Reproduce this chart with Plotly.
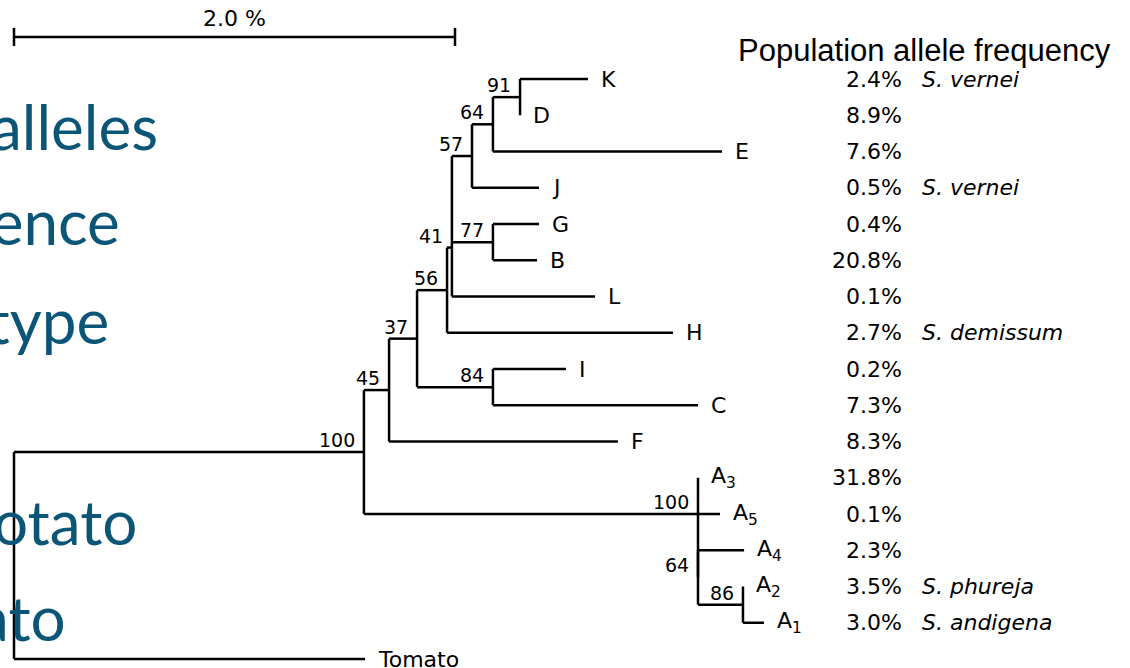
import plotly.graph_objects as go

# ---------------- data ----------------
# tree: node, parent, branch length (% sequence divergence from parent)
nodes = ["root", "N100", "Tomato", "N45", "NA100", "N37", "F", "N56", "N84", "N41", "H",
         "N57", "N77", "L", "N64", "J", "N91", "E", "K", "D", "G", "B", "I", "C",
         "A3", "A5", "NA64", "A4", "N86", "A2", "A1"]
parents = [None, "root", "root", "N100", "N100", "N45", "N45", "N37", "N37", "N56", "N56",
           "N41", "N41", "N41", "N57", "N57", "N64", "N64", "N91", "N91", "N77", "N77", "N84", "N84",
           "NA100", "NA100", "NA100", "NA64", "NA64", "N86", "N86"]
branch_len = [0.0, 1.587, 1.592, 0.114, 1.515, 0.127, 1.038, 0.136, 0.344, 0.022, 1.025,
              0.091, 0.186, 0.649, 0.095, 0.304, 0.123, 1.039, 0.308, 0.0, 0.209, 0.200, 0.331, 0.930,
              0.0, 0.100, 0.0, 0.209, 0.204, 0.0, 0.095]

leaf_order = ["K", "D", "E", "J", "G", "B", "L", "H", "I", "C", "F",
              "A3", "A5", "A4", "A2", "A1", "Tomato"]
leaf_labels = ["K", "D", "E", "J", "G", "B", "L", "H", "I", "C", "F",
               "A<sub>3</sub>", "A<sub>5</sub>", "A<sub>4</sub>", "A<sub>2</sub>", "A<sub>1</sub>", "Tomato"]

boot_nodes = ["N91", "N64", "N57", "N77", "N41", "N56", "N37", "N84", "N45", "N100", "NA100", "NA64", "N86"]
boot_vals = [91, 64, 57, 77, 41, 56, 37, 84, 45, 100, 100, 64, 86]

# nodes drawn off their children's midpoint in the original figure (leaf-row units)
y_override_nodes = ["N41", "NA100"]
y_override_vals = [4.65, 12.0]

freq_pct = [2.4, 8.9, 7.6, 0.5, 0.4, 20.8, 0.1, 2.7, 0.2, 7.3, 8.3,
            31.8, 0.1, 2.3, 3.5, 3.0]
species = ["S. vernei", "", "", "S. vernei", "", "", "", "S. demissum", "", "", "",
           "", "", "", "S. phureja", "S. andigena"]

scale_value = 2.0
scale_label = "2.0 %"
header = "Population allele frequency"

slide_words = ["alleles", "gence", "otype", "otato", "ato"]

# ---------------- layout of tree ----------------
par = dict(zip(nodes, parents))
blen = dict(zip(nodes, branch_len))
children = {n: [] for n in nodes}
for n, p in zip(nodes, parents):
    if p is not None:
        children[p].append(n)

xpos = {}
def calc_x(n):
    if n in xpos:
        return xpos[n]
    p = par[n]
    xpos[n] = blen[n] + (calc_x(p) if p else 0.0)
    return xpos[n]
for n in nodes:
    calc_x(n)

ypos = {leaf: i for i, leaf in enumerate(leaf_order)}
ovr = dict(zip(y_override_nodes, y_override_vals))
def calc_y(n):
    if n in ypos:
        return ypos[n]
    ys = [calc_y(c) for c in children[n]]
    ypos[n] = ovr.get(n, (min(ys) + max(ys)) / 2)
    return ypos[n]
calc_y("root")

lx, ly = [], []
for n in nodes:
    p = par[n]
    if p is not None:
        lx += [xpos[p], xpos[n], None]
        ly += [ypos[n], ypos[n], None]
    if children[n]:
        ys = [ypos[c] for c in children[n]]
        lx += [xpos[n], xpos[n], None]
        ly += [min(ys), max(ys), None]

fig = go.Figure()
fig.add_trace(go.Scatter(x=lx, y=ly, mode="lines",
                         line=dict(color="black", width=2.5),
                         hoverinfo="skip", showlegend=False))

# scale bar
SB_Y = -1.16
SB_T = 0.25
fig.add_trace(go.Scatter(
    x=[0, scale_value, None, 0, 0, None, scale_value, scale_value],
    y=[SB_Y, SB_Y, None, SB_Y - SB_T, SB_Y + SB_T, None, SB_Y - SB_T, SB_Y + SB_T],
    mode="lines", line=dict(color="black", width=2.5),
    hoverinfo="skip", showlegend=False))

ann = []
ROW_FONT = dict(family="DejaVu Sans", size=22, color="black")
SPEC_FONT = dict(family="DejaVu Sans", size=22, color="black")
ann.append(dict(x=scale_value / 2, y=-1.66, text=scale_label, showarrow=False,
                xanchor="center", yanchor="middle", font=ROW_FONT))

for leaf, lab in zip(leaf_order, leaf_labels):
    ann.append(dict(x=xpos[leaf], y=ypos[leaf], text=lab, showarrow=False,
                    xanchor="left", yanchor="middle", xshift=11, font=ROW_FONT))

for n, v in zip(boot_nodes, boot_vals):
    ann.append(dict(x=xpos[n], y=ypos[n], text=str(v), showarrow=False,
                    xanchor="right", yanchor="middle", xshift=-7, yshift=12,
                    font=dict(family="DejaVu Sans", size=19, color="black")))

FREQ_X = 4.035
SPEC_X = 4.11
for leaf, f, s in zip(leaf_order, freq_pct, species):
    ann.append(dict(x=FREQ_X, y=ypos[leaf], text=f"{f:.1f}%", showarrow=False,
                    xanchor="right", yanchor="middle", font=ROW_FONT))
    if s:
        ann.append(dict(x=SPEC_X, y=ypos[leaf], text=f"<i>{s}</i>", showarrow=False,
                        xanchor="left", yanchor="middle", font=SPEC_FONT))

ann.append(dict(x=4.13, y=-0.8, text=header, showarrow=False,
                xanchor="center", yanchor="middle",
                font=dict(family="Liberation Sans", size=31, color="black")))

# slide text peeking in from the left (clipped)
word_right = [160, 122, 111, 139, 68]
word_mid = [126, 221, 320, 521, 617]
for w, r, m in zip(slide_words, word_right, word_mid):
    ann.append(dict(xref="paper", yref="paper", x=r / 1130, y=1 - m / 668, text=w,
                    showarrow=False, xanchor="right", yanchor="middle",
                    font=dict(family="Lato", size=62, color="#0b5677")))

fig.update_layout(
    width=1130, height=668,
    margin=dict(l=0, r=0, t=0, b=0),
    paper_bgcolor="white", plot_bgcolor="white",
    xaxis=dict(range=[-14 / 220.5, 1116 / 220.5], visible=False, fixedrange=True),
    yaxis=dict(range=[589 / 36.25, -79 / 36.25], visible=False, fixedrange=True),
    annotations=ann,
    showlegend=False,
)

fig.write_html("out.html", config={"displayModeBar": False},
               post_script="document.body.style.margin='0';")
